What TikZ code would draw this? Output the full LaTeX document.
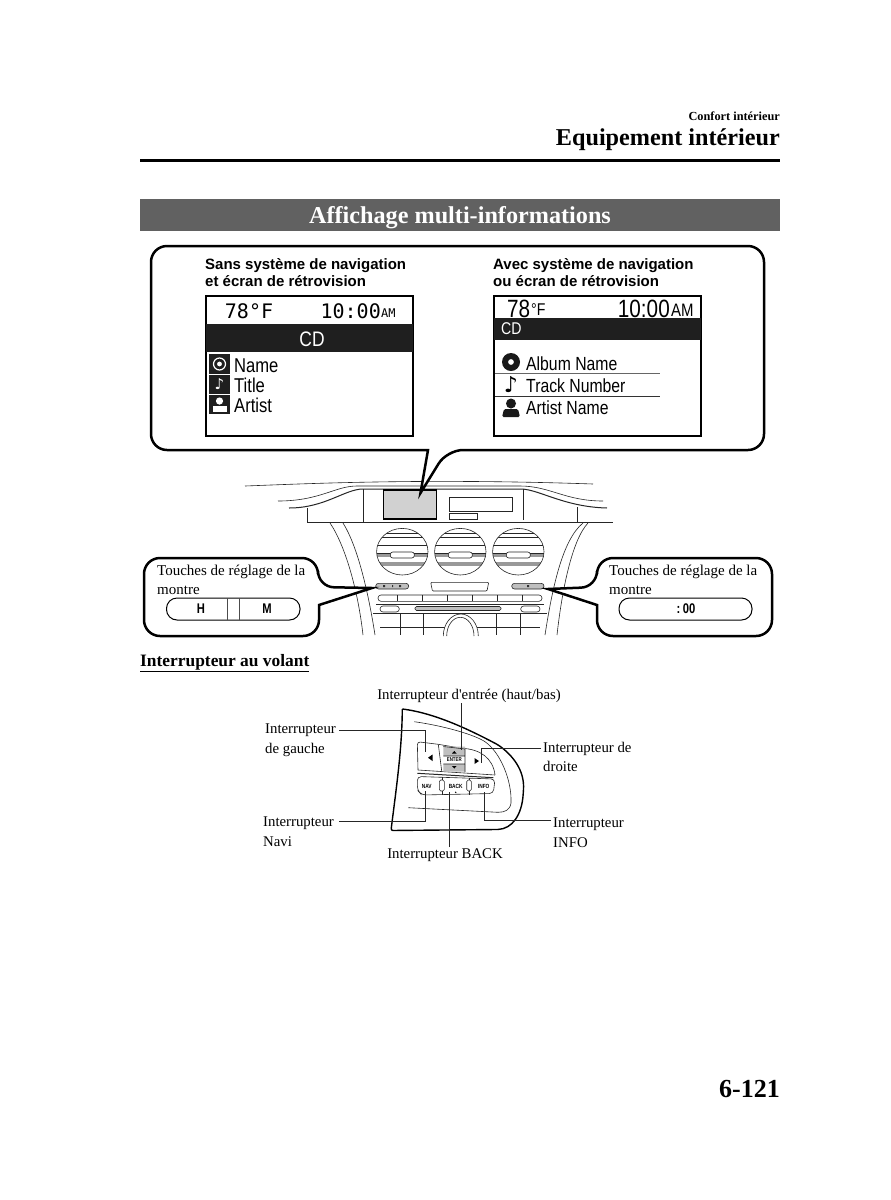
\documentclass[tikz,border=0pt]{standalone}
\usepackage{fontspec}
\setmainfont{Liberation Serif}
\setsansfont{Liberation Sans}
\newfontfamily\lcdfont[FakeStretch=0.83]{Liberation Sans}
\newfontfamily\monofont{DejaVu Sans Mono}
\newfontfamily\symfont{DejaVu Sans}
\newfontfamily\keyfont[FakeStretch=0.8]{Liberation Sans}
\usepackage{tikz}
\usetikzlibrary{positioning}

\begin{document}
\begin{tikzpicture}[
  x=1pt, y=-1pt,
  bubble/.style={draw=black, line width=#1, fill=white, rounded corners=16pt},
  bubble/.default=2.5pt,
  headtext/.style={font=\sffamily\bfseries\fontsize{15}{17}\selectfont, align=left, anchor=north west, inner sep=0pt},
  lcdtext/.style={font=\lcdfont\fontsize{20}{20}\selectfont, anchor=west, inner sep=0pt},
  screen/.style={draw=black, line width=1.4pt, fill=white},
  bandfill/.style={fill=black!88, draw=none},
  notetext/.style={font=\fontsize{15}{19}\selectfont, align=left, anchor=north west, inner sep=0pt},
  lbl/.style={font=\fontsize{14.8}{19.5}\selectfont, align=left, anchor=north west, inner sep=0pt},
  leader/.style={draw=black!85, line width=0.7pt},
  linework/.style={draw=black!85, line width=0.6pt},
  pill/.style={draw=black, line width=1pt, fill=white, rounded corners=10.5pt},
  keytext/.style={font=\keyfont\bfseries\fontsize{14}{14}\selectfont, inner sep=0pt},
  tinykey/.style={font=\keyfont\bfseries\fontsize{#1}{#1}\selectfont, inner sep=0pt},
  tinykey/.default=6
]
\useasboundingbox (0,0) rectangle (891,1200);
\fill[white] (0,0) rectangle (891,1200);

% Page heading
\node[font=\bfseries\fontsize{12.3}{12.3}\selectfont, anchor=east, inner sep=0pt] (chapter) at (780,116) {Confort intérieur};
\node[font=\bfseries\fontsize{24.2}{24.2}\selectfont, anchor=east, inner sep=0pt] (section) at (780,140) {Equipement intérieur};
\draw[line width=3pt] (140,160) -- (780,160);
\node[fill=black!62, minimum width=640pt, minimum height=32pt, inner sep=0pt, text=white] (banner) at (460,215) {};
\node[text=white, inner sep=0pt, font=\bfseries\fontsize{24.2}{24.2}\selectfont] (bannertext) at (460,217.5) {Affichage multi-informations};

% Dashboard
\draw[linework] (245,486) .. controls (300,484) and (420,478) .. (593,484);
\draw[linework] (278,501) .. controls (320,501) and (335,486) .. (357,486) -- (520,486) .. controls (550,486) and (565,501) .. (603,501);
\draw[line width=1pt, black!85] (289,508) .. controls (325,508) and (345,489) .. (363,489) -- (522,489) .. controls (540,490) and (565,507) .. (607,508);
\draw[linework] (307,508) -- (307,522) -- (613,522);
\draw[linework] (577,507) -- (577,522);
\draw[linework] (363,489) -- (363,522);
\draw[linework] (523,489) -- (523,520);
\draw[line width=1.2pt, fill=black!18] (383.5,490) rectangle (436.5,519);
\draw[linework] (449.5,497) rectangle (512.5,511);
\draw[linework] (449.5,513.5) rectangle (477.5,519.5);
\draw[linework] (330,523) .. controls (345,545) and (358,590) .. (363,635);
\draw[linework] (343,523) .. controls (357,545) and (368,590) .. (375,635);
\draw[linework] (588,523) .. controls (572,540) and (562,590) .. (557,635);
\draw[linework] (583,523) .. controls (562,540) and (552,590) .. (545,635);
\foreach \vx in {402.3,460.3,518.3} {
  \begin{scope}
    \clip (\vx,551.7) circle [x radius=25.7pt, y radius=23.3pt];
    \fill[black!40] (\vx-26,553) rectangle (\vx+26,557);
    \fill[black!40] (\vx-26,561.5) rectangle (\vx+26,565.5);
    \draw[linework] (\vx-26,533.5) -- (\vx+26,533.5);
    \draw[linework] (\vx-26,537) -- (\vx+26,537);
    \draw[linework] (\vx-26,545) -- (\vx+26,545);
    \draw[linework] (\vx-26,553) -- (\vx+26,553);
  \end{scope}
  \draw[linework] (\vx,551.7) circle [x radius=25.7pt, y radius=23.3pt];
  \draw[linework, fill=white, rounded corners=2.5pt] (\vx-12,552) rectangle (\vx+12,558);
}
\draw[linework, fill=black!25, rounded corners=2.8pt] (375.7,583.3) rectangle (408.7,589);
\draw[linework, fill=black!25, rounded corners=2.8pt] (511.7,583.3) rectangle (544,589);
\fill[black!80] (383,585) rectangle (385,587) (392,585) rectangle (393,587) (399,585) rectangle (401,587) (527,585) rectangle (529,587);
\draw[linework, rounded corners=1pt] (430.7,582.3) -- (488.7,582.3) -- (487,591) -- (432.4,591) -- cycle;
\draw[linework, rounded corners=3pt] (378,595) rectangle (542,601.3);
\foreach \kx in {397.3,422.7,447.3,472.7,497.7,522.7} { \draw[linework] (\kx,595) -- (\kx,601.3); }
\draw[line width=0.9pt, black!85] (376,604.3) -- (544,604.3);
\draw[linework, rounded corners=3pt] (380,606) rectangle (399.3,612);
\draw[linework, rounded corners=3pt] (520.7,606) rectangle (540,612);
\draw[linework, fill=black!25, rounded corners=1.5pt] (415,606.5) rectangle (501,610.5);
\draw[linework] (373,613.3) -- (547,613.3);
\draw[linework] (380,627.7) -- (540,627.7);
\foreach \gx in {400.3,423.7,496.7,520.3} { \draw[linework] (\gx,613.3) -- (\gx,635); }
\draw[linework, fill=white] (443.3,636) arc (180:0:17.5pt and 22pt);
\draw[linework, fill=white] (446.7,636) arc (180:0:13.65pt and 18.7pt);

% Big callout
\draw[bubble] (151,246) -- (764,246) -- (764,450) -- (447,450) [sharp corners] -- (420.5,493) -- (428,450)
  [rounded corners=16pt] -- (151,450) -- cycle;
\node[headtext] (headleft) at (205,258) {Sans système de navigation\\et écran de rétrovision};
\node[headtext] (headright) at (493,258) {Avec système de navigation\\ou écran de rétrovision};

% Left screen
\draw[screen] (206,296) rectangle (413,436);
\fill[bandfill] (206,324) rectangle (413,352);
\node[font=\monofont\fontsize{20}{20}\selectfont, inner sep=0pt] (templeft) at (249,311) {78°F};
\node[font=\monofont\fontsize{20}{20}\selectfont, anchor=east, inner sep=0pt] (clockleft) at (381,311) {10:00};
\node[font=\monofont\fontsize{12}{12}\selectfont, anchor=west, inner sep=0pt] (ampmleft) at (381,313) {AM};
\node[font=\lcdfont\fontsize{21}{21}\selectfont, text=white, inner sep=0pt] (cdleft) at (312,339) {CD};
\fill[black!88] (209,354) rectangle (230,374);
\draw[white, line width=1.2pt] (219.5,364) circle (6pt);
\fill[white] (219.5,364) circle (2.4pt);
\fill[black!88] (209,375) rectangle (230,394);
\node[font=\symfont\fontsize{15}{15}\selectfont, text=white, inner sep=0pt] (noteleft) at (219.5,384.5) {♪};
\fill[black!88] (209,395) rectangle (230,414);
\fill[white] (219.5,401) circle (3.6pt);
\fill[white] (212.5,411.5) rectangle (226.5,405.5);
\node[lcdtext] (nameleft) at (234,366) {Name};
\node[lcdtext] (titleleft) at (234,385) {Title};
\node[lcdtext] (artistleft) at (234,405) {Artist};

% Right screen
\draw[screen] (494,296) rectangle (701,436);
\fill[bandfill] (494,318) rectangle (701,340);
\node[font=\lcdfont\fontsize{25}{25}\selectfont, anchor=west, inner sep=0pt] (tempright) at (507,309) {78};
\node[font=\lcdfont\fontsize{17}{17}\selectfont, anchor=west, inner sep=0pt] (unitright) at (531,310) {°F};
\node[font=\lcdfont\fontsize{25}{25}\selectfont, anchor=east, inner sep=0pt] (clockright) at (670,309) {10:00};
\node[font=\lcdfont\fontsize{18}{18}\selectfont, anchor=west, inner sep=0pt] (ampmright) at (671,310) {AM};
\node[font=\lcdfont\fontsize{17}{17}\selectfont, text=white, anchor=west, inner sep=0pt] (cdright) at (501,329) {CD};
\fill[black!90, even odd rule] (511,362) circle (9pt) circle (3pt);
\node[font=\symfont\bfseries\fontsize{22}{22}\selectfont, inner sep=0pt] (noteright) at (511,385) {♪};
\fill[black!90] (511,403.5) circle (5pt);
\fill[black!90, rounded corners=1.5pt] (502,417) -- (504,409) -- (518,409) -- (520,417) -- cycle;
\node[lcdtext, font=\lcdfont\fontsize{19}{19}\selectfont] (albumright) at (526,364) {Album Name};
\node[lcdtext, font=\lcdfont\fontsize{19}{19}\selectfont] (trackright) at (526,386) {Track Number};
\node[lcdtext, font=\lcdfont\fontsize{19}{19}\selectfont] (artistright) at (526,408) {Artist Name};
\draw[black!60, line width=0.7pt] (495,373) -- (660,373);
\draw[black!80, line width=0.7pt] (495,396) -- (660,396);

% Clock callouts
\draw[bubble] (144,558) -- (318,558) -- (318,587) [sharp corners] -- (372,588) -- (319,605)
  [rounded corners=16pt] -- (319,636) -- (144,636) -- cycle;
\node[notetext] (noteclockl) at (157,564.5) {Touches de réglage de la\\montre};
\draw[pill] (166.5,598) rectangle (300,620);
\draw[black!70, line width=0.6pt] (227,598) -- (227,620) (239,598) -- (239,620);
\node[keytext] (hourkey) at (201,609) {H};
\node[keytext] (minkey) at (267,609) {M};

\draw[bubble] (772,558) -- (597,558) -- (597,587) [sharp corners] -- (548,589) -- (597,605)
  [rounded corners=16pt] -- (597,636) -- (772,636) -- cycle;
\node[notetext] (noteclockr) at (609,564.5) {Touches de réglage de la\\montre};
\draw[pill] (619,598) rectangle (752,620);
\node[keytext] (zerokey) at (686,609) {:\,00};

% Steering wheel switches
\node[font=\bfseries\fontsize{17.4}{17.4}\selectfont, anchor=west, inner sep=0pt] (wheeltitle) at (140,663) {\underline{Interrupteur au volant}};
\draw[line width=1.4pt, rounded corners=2pt] (402.3,709) .. controls (435,713) and (470,730) .. (498.3,745)
  .. controls (512,755) and (525,770) .. (523.3,792) .. controls (522,815) and (512,829) .. (496,829.5) -- (391,830.5)
  .. controls (396,790) and (402,750) .. (402.3,709);
\draw[linework] (414.3,721.7) .. controls (445,726) and (475,735) .. (485,741.7) .. controls (500,752) and (512,780) .. (511,803)
  .. controls (510,810) and (505,812.3) .. (498,812.3) -- (408.3,807.7);
\draw[linework, rounded corners=3pt] (418,770) -- (417.3,741.7) -- (438.3,744.3);
\draw[linework] (438.3,744.3) -- (461.7,748.3) .. controls (480,749) and (493,758) .. (495,775);
\draw[linework] (438.3,744.3) -- (441.7,771);
\draw[linework] (418,770) -- (495,775);
\draw[line width=1pt, black!85] (417.3,773.3) -- (493.3,777.7);
\draw[linework, rounded corners=4pt] (417.3,776.5) -- (495,779) -- (493.3,793.5) -- (421.7,795) -- (417.3,790) -- cycle;
\draw[linework, rounded corners=1.5pt] (439.3,780) rectangle (444.3,791);
\draw[linework] (441.8,776.5) -- (441.8,780) (441.8,791) -- (441.8,795);
\draw[linework, rounded corners=1.5pt] (466.7,780) rectangle (471.3,791);
\draw[linework] (469,778) -- (469,780) (469,791) -- (469,795);
\fill[black!25] (443.3,746.5) rectangle (465,756) (443.3,764) rectangle (465,771.5);
\draw[linework] (443.3,746.5) -- (465,749) (443.3,756) -- (465,756) (443.3,764) -- (465,764) (465,749) -- (465,772);
\fill (428,757.7) -- (432.5,754.5) -- (432.5,761) -- cycle;
\fill (479,761) -- (474.5,758) -- (474.5,764) -- cycle;
\fill (454.3,751) -- (452,753.5) -- (456.6,753.5) -- cycle;
\fill (454.3,768.5) -- (452,766) -- (456.6,766) -- cycle;
\node[tinykey=5.5] (enterkey) at (454.3,760) {ENTER};
\node[tinykey] (navkey) at (426.7,786) {NAV};
\node[tinykey] (backkey) at (455.7,786) {BACK};
\node[tinykey] (infokey) at (483.7,786) {INFO};
\fill (455.7,792.3) circle (0.8pt);

% Labels and leaders
\node[lbl, anchor=south] (swenter) at (469,703) {Interrupteur d\textquotesingle entrée (haut/bas)};
\node[lbl] (swleft) at (265,724) {Interrupteur\\de gauche};
\node[lbl] (swright) at (543,742) {Interrupteur de\\droite};
\node[lbl] (swnavi) at (263,817) {Interrupteur\\Navi};
\node[lbl] (swinfo) at (553,818) {Interrupteur\\INFO};
\node[lbl, anchor=north] (swback) at (445,848) {Interrupteur BACK};
\coordinate (tipenter) at (461,750);
\coordinate (tipleft) at (425,751.7);
\coordinate (tipright) at (481,763);
\coordinate (tipnavi) at (425.7,791);
\coordinate (tipback) at (449,792);
\coordinate (tipinfo) at (484.3,791.7);
\draw[leader] (461,703) -- (tipenter);
\draw[leader] (339,730) -| (tipleft);
\draw[leader] (541,748.3) -| (tipright);
\draw[leader] (339,821.7) -| (tipnavi);
\draw[leader] (449,847) -- (tipback);
\draw[leader] (551,820) -| (tipinfo);

% Page number
\node[font=\bfseries\fontsize{26}{26}\selectfont, anchor=east, inner sep=0pt] (pagenum) at (780,1089) {6-121};

\end{tikzpicture}
\end{document}
